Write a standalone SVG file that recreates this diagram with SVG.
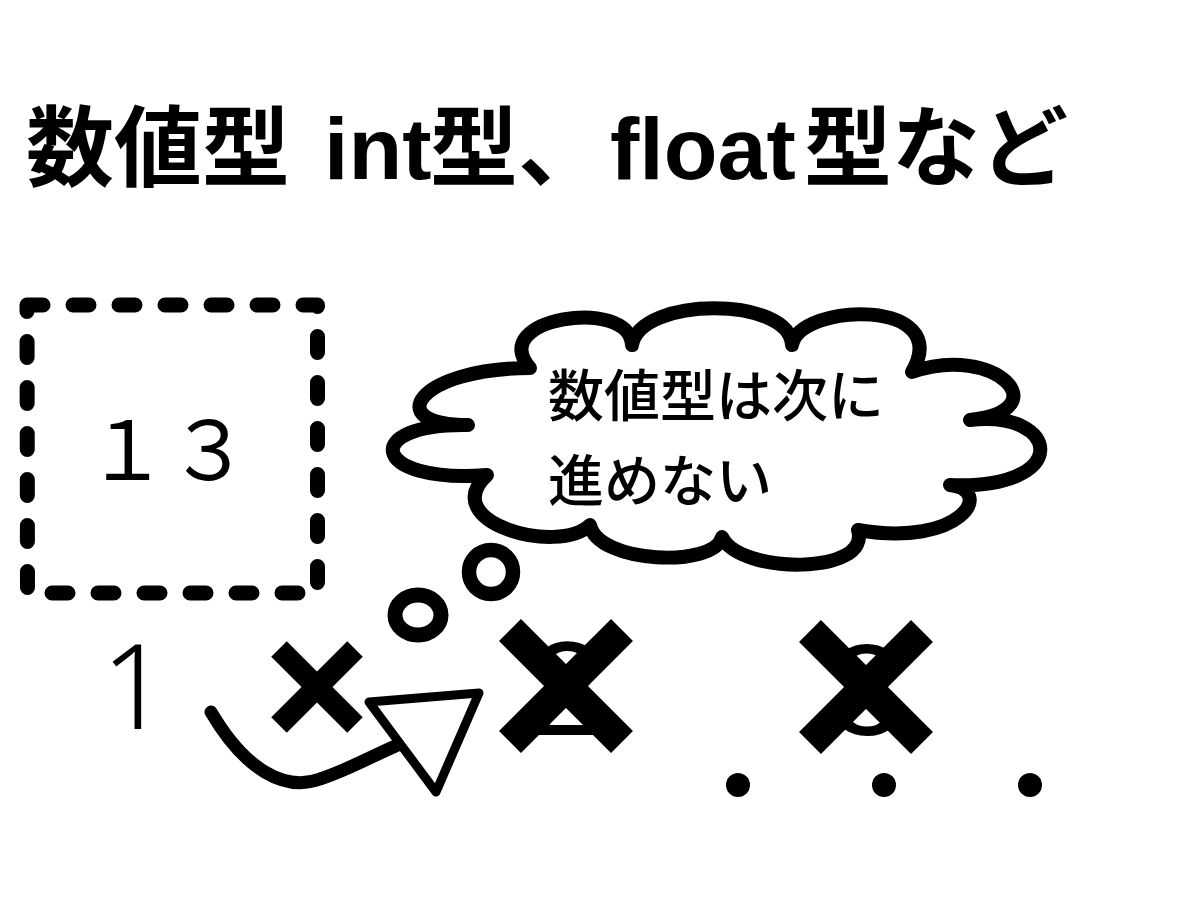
<svg xmlns="http://www.w3.org/2000/svg" width="1200" height="900" viewBox="0 0 1200 900">
  <style>
    .cjk { font-family: "Noto Sans CJK JP", "Noto Sans", sans-serif; }
    .lat { font-family: "Liberation Sans", "Noto Sans CJK JP", sans-serif; }
    .thin { font-family: "Noto Sans", "Liberation Sans", sans-serif; font-weight: 300; }
    .ink { fill: none; stroke: #000; }
    .xmark { stroke: #000; stroke-linecap: butt; }
  </style>
  <rect x="0" y="0" width="1200" height="900" fill="#fff"/>

  <g id="title">
    <text y="179" font-size="88" font-weight="bold" fill="#000"><tspan class="cjk" x="26">数値型</tspan><tspan class="lat" x="324">int</tspan><tspan class="cjk" x="430">型、</tspan><tspan class="lat" x="610">float</tspan><tspan class="cjk" x="804">型など</tspan></text>
  </g>

  <g id="value-box">
    <path class="ink" d="M27,305 H317.5 V593 H27.5 Z" stroke-width="15" stroke-linecap="round" stroke-linejoin="round" stroke-dasharray="16 30"/>
    <text class="cjk" x="86" y="480" font-size="82" fill="#000">１３</text>
  </g>

  <g id="thought-cloud">
    <path class="ink" stroke-width="14" stroke-linejoin="round" fill="#fff"
      d="M530,368
         C485,318 630,296 632,345
         C640,296 790,296 792,345
         C800,302 955,298 912,372
         C995,343 1060,410 970,420
         C1062,410 1072,490 950,485
         C995,490 962,548 858,530
         C872,575 740,575 722,537
         C715,568 598,564 590,525
         C558,556 436,522 487,475
         C370,484 360,423 468,425
         C380,425 418,368 530,368 Z"/>
    <text class="cjk" font-size="56" font-weight="500" fill="#000"><tspan x="548" y="416">数値型は次に</tspan><tspan x="548" y="501">進めない</tspan></text>
    <ellipse class="ink" cx="491" cy="572" rx="22" ry="22" stroke-width="14.5"/>
    <ellipse class="ink" cx="418" cy="615" rx="23" ry="20" stroke-width="15"/>
  </g>

  <g id="sequence">
    <text class="thin" x="135" y="729" font-size="118" text-anchor="middle" fill="#000">1</text>
    <text class="lat" x="567" y="735" font-size="134" text-anchor="middle" fill="#000">2</text>
    <text class="lat" x="867" y="735" font-size="130" text-anchor="middle" fill="#000">3</text>
    <g id="cross-1" class="xmark" stroke-width="22">
      <line x1="279" y1="649" x2="355" y2="725"/>
      <line x1="355" y1="649" x2="279" y2="725"/>
    </g>
    <g id="cross-2" class="xmark" stroke-width="31">
      <line x1="510" y1="630" x2="622" y2="742"/>
      <line x1="622" y1="630" x2="510" y2="742"/>
    </g>
    <g id="cross-3" class="xmark" stroke-width="31">
      <line x1="810" y1="631" x2="922" y2="743"/>
      <line x1="922" y1="631" x2="810" y2="743"/>
    </g>
    <circle cx="738" cy="785" r="12" fill="#000"/>
    <circle cx="884" cy="785" r="12" fill="#000"/>
    <circle cx="1030" cy="785" r="12" fill="#000"/>
  </g>

  <g id="connectors">
    <path class="ink" d="M211,712 C245,770 285,792 320,779 C348,770 372,756 400,744" stroke-width="13" stroke-linecap="round"/>
    <polygon points="369,702 479,693 436,792" fill="#fff" stroke="#000" stroke-width="9" stroke-linejoin="round"/>
  </g>
</svg>
